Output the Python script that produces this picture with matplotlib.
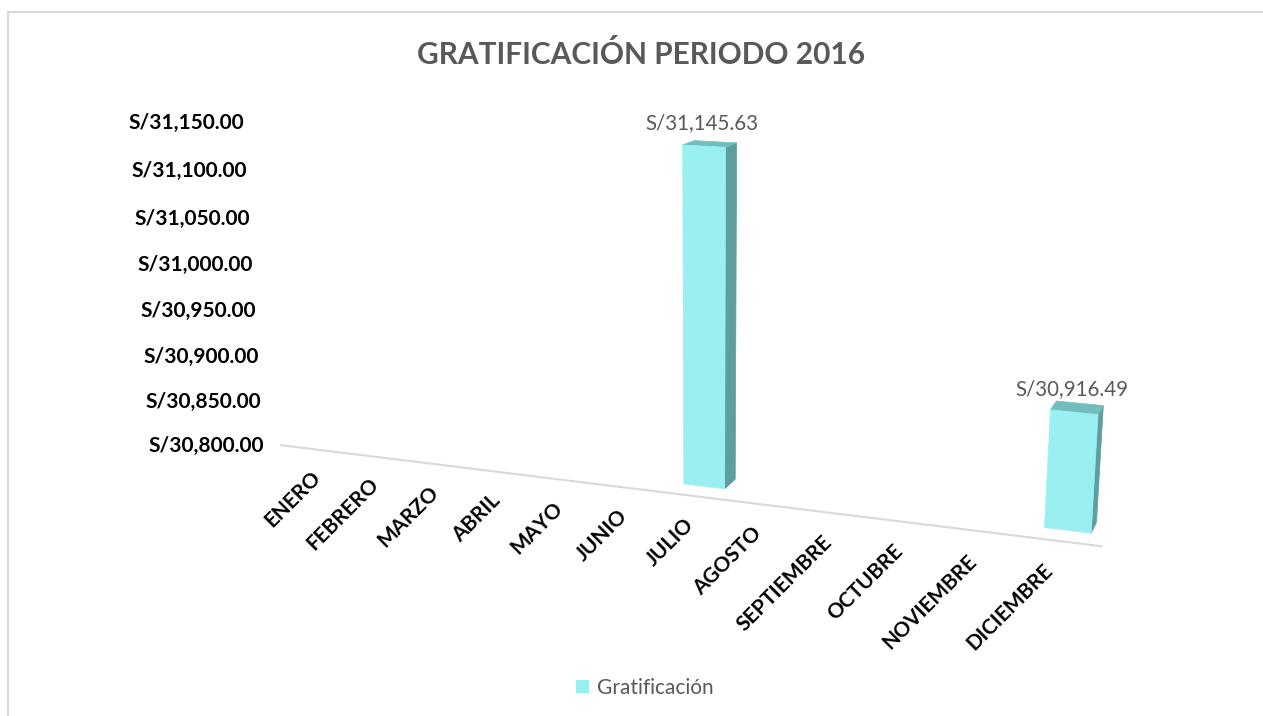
import numpy as np
import matplotlib.pyplot as plt
import matplotlib.transforms as mtransforms
from matplotlib.patches import Polygon, Patch, Rectangle

plt.rcParams['font.family'] = ['Lato', 'DejaVu Sans']

months = ['ENERO', 'FEBRERO', 'MARZO', 'ABRIL', 'MAYO', 'JUNIO', 'JULIO',
          'AGOSTO', 'SEPTIEMBRE', 'OCTUBRE', 'NOVIEMBRE', 'DICIEMBRE']
gratificacion = [np.nan, np.nan, np.nan, np.nan, np.nan, np.nan, 31145.63,
                 np.nan, np.nan, np.nan, np.nan, 30916.49]
value_ticks = [30800, 30850, 30900, 30950, 31000, 31050, 31100, 31150]
series_name = 'Gratificación'
title = 'GRATIFICACIÓN PERIODO 2016'

W, H = 1263, 716
BASE = value_ticks[0]
BAR_W = 0.6       # bar width, category units
BAR_D = 0.6       # bar depth
FLOOR_Z = -0.6    # front edge of the floor
LABEL_DROP = 40   # category labels sit this far below the floor (value units)

FRONT = '#9AEFF0'
SIDE = '#5E9E9E'
TOP = '#70BEBE'
GREY = '#595959'

# perspective camera of the 3-D view:
# (category, (value - BASE) / 100, depth, 1) -> homogeneous pixel (x right, y down)
CAMERA = np.array([
    [54.392499, -9.1273024, 33.806497, 326.35595],
    [1.6980403, -93.11638, -3.0235878, 440.56872],
    [-0.012182277, -0.012909452, 0.023858719, 1.0],
])


class PlaneProj(mtransforms.Transform):
    """Maps the 2 free coordinates of a plane in (category, value, depth)
    space to figure fraction through the camera."""
    input_dims = output_dims = 2

    def __init__(self, fixed, value):
        super().__init__()
        self.fixed = fixed
        self.value = value

    def transform_non_affine(self, values):
        values = np.asarray(values, float).reshape(-1, 2)
        n = len(values)
        pts = np.empty((n, 3))
        free = [k for k in range(3) if k != self.fixed]
        pts[:, free[0]] = values[:, 0]
        pts[:, free[1]] = values[:, 1]
        pts[:, self.fixed] = self.value
        pts[:, 1] = (pts[:, 1] - BASE) / 100
        h = np.column_stack([pts, np.ones(n)]) @ CAMERA.T
        px = h[:, 0] / h[:, 2]
        py = h[:, 1] / h[:, 2]
        return np.column_stack([px / W, 1 - py / H])


fig = plt.figure(figsize=(W / 100, H / 100), dpi=100)
ax = fig.add_axes([0, 0, 1, 1])
ax.axis('off')


def plane(fixed, value):
    return PlaneProj(fixed, value) + fig.transFigure


def shifted(tr, dx, dy):
    return mtransforms.offset_copy(tr, fig=fig, x=dx, y=dy, units='dots')


# chart border (right and bottom edges run off the picture)
fig.add_artist(Rectangle((8 / W, -0.05), 1.1, 1 - 12 / H + 0.05,
                         transform=fig.transFigure, fill=False,
                         edgecolor='#D9D9D9', lw=1.5))

# floor front edge
floor_tr = plane(2, FLOOR_Z)
ax.plot([-0.5, len(months) - 0.5], [BASE, BASE], color='#D9D9D9', lw=1.5,
        transform=floor_tr, clip_on=False)

# value labels along the left edge
for v in value_ticks:
    ax.text(-0.5, v, f'S/{v:,.2f}', transform=shifted(floor_tr, -17, -1),
            ha='right', va='center', fontsize=15, fontweight='bold',
            color='black')

# category labels
label_tr = shifted(plane(2, BAR_D / 2), -26, 4)
for i, m in enumerate(months):
    ax.text(i, BASE - LABEL_DROP, m, transform=label_tr,
            ha='right', va='top', rotation=45, rotation_mode='anchor',
            fontsize=15, fontweight='bold', color='black')

# 3-D columns
for i, val in enumerate(gratificacion):
    if np.isnan(val):
        continue
    x0, x1 = i - BAR_W / 2, i + BAR_W / 2
    ax.add_patch(Polygon([(BASE, 0), (val, 0), (val, BAR_D), (BASE, BAR_D)],
                         closed=True, facecolor=SIDE, edgecolor=SIDE,
                         lw=0.5, transform=plane(0, x1)))
    ax.add_patch(Polygon([(x0, 0), (x1, 0), (x1, BAR_D), (x0, BAR_D)],
                         closed=True, facecolor=TOP, edgecolor=TOP,
                         lw=0.5, transform=plane(1, val)))
    ax.add_patch(Polygon([(x0, BASE), (x1, BASE), (x1, val), (x0, val)],
                         closed=True, facecolor=FRONT, edgecolor=FRONT,
                         lw=0.5, transform=plane(2, 0)))
    ax.text(i, val, f'S/{val:,.2f}', transform=shifted(plane(2, 0), -2, 23),
            ha='center', va='center', fontsize=14.8, color=GREY)

fig.text(641 / W, 1 - 55 / H, title, ha='center', va='center',
         fontsize=21.5, fontweight='bold', color=GREY)

fig.legend(handles=[Patch(facecolor=FRONT)], labels=[series_name],
           loc='center', bbox_to_anchor=(645 / W, 1 - 688 / H),
           frameon=False, handlelength=0.6, handleheight=0.6,
           handletextpad=0.4, fontsize=15, labelcolor=GREY)

fig.savefig('out.png', dpi=100)
